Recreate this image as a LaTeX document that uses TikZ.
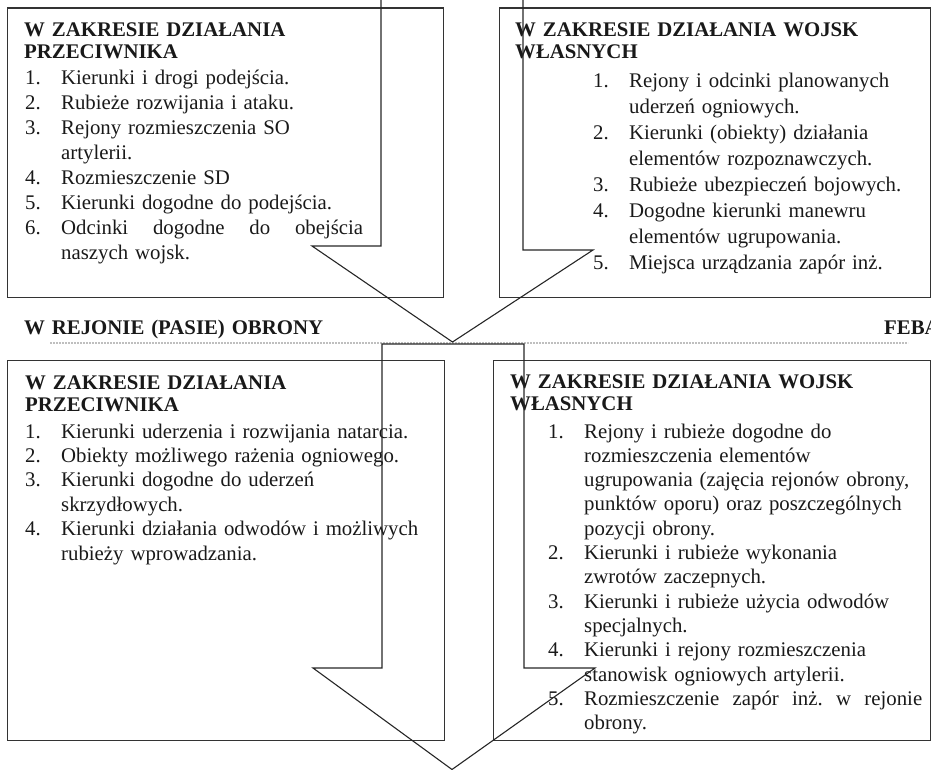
\documentclass[tikz,border=0pt]{standalone}
\usepackage{fontspec}
\setmainfont{Liberation Serif}
\tikzset{
  frame/.style={draw=black!80, line width=1.1pt, inner sep=0pt, anchor=north west},
  blockarrow/.style={draw=black!85, line width=1.1pt, line join=miter},
  boxtext/.style={anchor=base west, inner sep=0pt, align=left, text width=400pt,
    text=black!90, font=\fontsize{20.8}{#1}\selectfont},
  headtext/.style={boxtext=#1, font=\fontsize{20.8}{#1}\selectfont\bfseries},
  febaline/.style={draw=gray!50, line width=1.8pt, dash pattern=on 2pt off 1pt}
}
\newcommand{\nr}[1]{\makebox[36pt][l]{#1}}
\newcommand{\cont}{\hspace*{36pt}}
\begin{document}
\begin{tikzpicture}[x=1pt, y=-1pt]
  \useasboundingbox (0,0) rectangle (931,770);

  % Frames
  \node[frame, minimum width=436pt, minimum height=289.5pt] (enemyTop) at (7,7.5) {};
  \node[frame, minimum width=430.5pt, minimum height=289.5pt] (ownTop) at (499,7.5) {};
  \node[frame, minimum width=437pt, minimum height=380pt] (enemyLow) at (7,360) {};
  \node[frame, minimum width=436.5pt, minimum height=380pt] (ownLow) at (493,360) {};

  % Upper texts
  \node[headtext=22] (enemyTopHead) at (24,36.5) {W ZAKRESIE DZIAŁANIA\\PRZECIWNIKA};
  \node[boxtext=25] (enemyTopList) at (25,85) {%
    \nr{1.}Kierunki i drogi podejścia.\\
    \nr{2.}Rubieże rozwijania i ataku.\\
    \nr{3.}Rejony rozmieszczenia SO\\
    \cont artylerii.\\
    \nr{4.}Rozmieszczenie SD\\
    \nr{5.}Kierunki dogodne do podejścia.\\
    \nr{6.}\makebox[302pt][l]{Odcinki\hfill dogodne\hfill do\hfill obejścia}\\
    \cont naszych wojsk.};
  \node[headtext=22] (ownTopHead) at (515,36.5) {W ZAKRESIE DZIAŁANIA WOJSK\\WŁASNYCH};
  \node[boxtext=26] (ownTopList) at (593,88) {%
    \nr{1.}Rejony i odcinki planowanych\\
    \cont uderzeń ogniowych.\\
    \nr{2.}Kierunki (obiekty) działania\\
    \cont elementów rozpoznawczych.\\
    \nr{3.}Rubieże ubezpieczeń bojowych.\\
    \nr{4.}Dogodne kierunki manewru\\
    \cont elementów ugrupowania.\\
    \nr{5.}Miejsca urządzania zapór inż.};

  % Line of defence
  \draw[febaline] (50,343) -- (908,343);
  \node[headtext=22] (zoneTitle) at (24,334) {W REJONIE (PASIE) OBRONY};
  \node[headtext=22] (febaTitle) at (884,334) {FEBA};

  % Lower texts
  \node[headtext=22] (enemyLowHead) at (25,389) {W ZAKRESIE DZIAŁANIA\\PRZECIWNIKA};
  \node[boxtext=24.4] (enemyLowList) at (25,438) {%
    \nr{1.}Kierunki uderzenia i rozwijania natarcia.\\
    \nr{2.}Obiekty możliwego rażenia ogniowego.\\
    \nr{3.}Kierunki dogodne do uderzeń\\
    \cont skrzydłowych.\\
    \nr{4.}Kierunki działania odwodów i możliwych\\
    \cont rubieży wprowadzania.};
  \node[headtext=22] (ownLowHead) at (510,388) {W ZAKRESIE DZIAŁANIA WOJSK\\WŁASNYCH};
  \node[boxtext=24.3] (ownLowList) at (548,438) {%
    \nr{1.}Rejony i rubieże dogodne do\\
    \cont rozmieszczenia elementów\\
    \cont ugrupowania (zajęcia rejonów obrony,\\
    \cont punktów oporu) oraz poszczególnych\\
    \cont pozycji obrony.\\
    \nr{2.}Kierunki i rubieże wykonania\\
    \cont zwrotów zaczepnych.\\
    \nr{3.}Kierunki i rubieże użycia odwodów\\
    \cont specjalnych.\\
    \nr{4.}Kierunki i rejony rozmieszczenia\\
    \cont stanowisk ogniowych artylerii.\\
    \nr{5.}\makebox[338pt][l]{Rozmieszczenie\hfill zapór\hfill inż.\hfill w\hfill rejonie}\\
    \cont obrony.};

  % Arrows
  \coordinate (tipUpper) at (452.5,342);
  \coordinate (tipLower) at (452,769.5);
  \draw[blockarrow] (381,-5) |- (312,246) -- (tipUpper) -- (593,250) -| (523,-5);
  \draw[blockarrow] (382,344) |- (313,668) -- (tipLower) -- (595,668) -| (524,344) -- cycle;
\end{tikzpicture}
\end{document}
